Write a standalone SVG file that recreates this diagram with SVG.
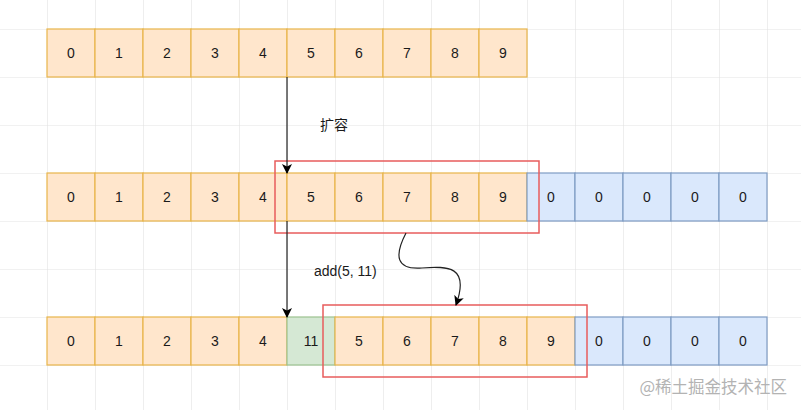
<svg xmlns="http://www.w3.org/2000/svg" width="801" height="410" viewBox="0 0 801 410">
<defs>
<pattern id="grid" x="-1" y="29" width="48" height="48" patternUnits="userSpaceOnUse">
<path d="M 0 0 L 48 0 M 0 0 L 0 48" fill="none" stroke="#e3e3e3" stroke-width="1.2"/>
</pattern>
<marker id="arr" viewBox="0 0 10 10" refX="9" refY="5" markerWidth="10" markerHeight="10" markerUnits="userSpaceOnUse" orient="auto">
<path d="M 0 0 L 10 5 L 0 10 L 2.5 5 Z" fill="#000"/>
</marker>
<style>
.o{fill:#ffe6cc;stroke:#e8b54a;stroke-width:1.2}
.b{fill:#dae8fc;stroke:#7f9cc4;stroke-width:1.2}
.g{fill:#d5e8d4;stroke:#9cc28f;stroke-width:1.2}
.t{font-family:"Liberation Sans",Arial,"Noto Sans CJK SC",sans-serif;font-size:14px;fill:#1a1a1a;text-anchor:middle;dominant-baseline:central}
.lbl{font-family:"Liberation Sans",Arial,"Noto Sans CJK SC",sans-serif;font-size:14px;fill:#1a1a1a}
.red{fill:none;stroke:#e85c5c;stroke-width:1.5}
.ln{fill:none;stroke:#222;stroke-width:1.2}
</style>
</defs>
<rect width="801" height="410" fill="#fff"/>
<rect width="801" height="410" fill="url(#grid)"/>

<g id="row1">
<g id="r1c0"><rect class="o" x="47" y="29" width="48" height="48"/><text class="t" x="71" y="53">0</text></g>
<g id="r1c1"><rect class="o" x="95" y="29" width="48" height="48"/><text class="t" x="119" y="53">1</text></g>
<g id="r1c2"><rect class="o" x="143" y="29" width="48" height="48"/><text class="t" x="167" y="53">2</text></g>
<g id="r1c3"><rect class="o" x="191" y="29" width="48" height="48"/><text class="t" x="215" y="53">3</text></g>
<g id="r1c4"><rect class="o" x="239" y="29" width="48" height="48"/><text class="t" x="263" y="53">4</text></g>
<g id="r1c5"><rect class="o" x="287" y="29" width="48" height="48"/><text class="t" x="311" y="53">5</text></g>
<g id="r1c6"><rect class="o" x="335" y="29" width="48" height="48"/><text class="t" x="359" y="53">6</text></g>
<g id="r1c7"><rect class="o" x="383" y="29" width="48" height="48"/><text class="t" x="407" y="53">7</text></g>
<g id="r1c8"><rect class="o" x="431" y="29" width="48" height="48"/><text class="t" x="455" y="53">8</text></g>
<g id="r1c9"><rect class="o" x="479" y="29" width="48" height="48"/><text class="t" x="503" y="53">9</text></g>
</g>

<g id="row2">
<g id="r2c0"><rect class="o" x="47" y="173" width="48" height="48"/><text class="t" x="71" y="197">0</text></g>
<g id="r2c1"><rect class="o" x="95" y="173" width="48" height="48"/><text class="t" x="119" y="197">1</text></g>
<g id="r2c2"><rect class="o" x="143" y="173" width="48" height="48"/><text class="t" x="167" y="197">2</text></g>
<g id="r2c3"><rect class="o" x="191" y="173" width="48" height="48"/><text class="t" x="215" y="197">3</text></g>
<g id="r2c4"><rect class="o" x="239" y="173" width="48" height="48"/><text class="t" x="263" y="197">4</text></g>
<g id="r2c5"><rect class="o" x="287" y="173" width="48" height="48"/><text class="t" x="311" y="197">5</text></g>
<g id="r2c6"><rect class="o" x="335" y="173" width="48" height="48"/><text class="t" x="359" y="197">6</text></g>
<g id="r2c7"><rect class="o" x="383" y="173" width="48" height="48"/><text class="t" x="407" y="197">7</text></g>
<g id="r2c8"><rect class="o" x="431" y="173" width="48" height="48"/><text class="t" x="455" y="197">8</text></g>
<g id="r2c9"><rect class="o" x="479" y="173" width="48" height="48"/><text class="t" x="503" y="197">9</text></g>
<g id="r2c10"><rect class="b" x="527" y="173" width="48" height="48"/><text class="t" x="551" y="197">0</text></g>
<g id="r2c11"><rect class="b" x="575" y="173" width="48" height="48"/><text class="t" x="599" y="197">0</text></g>
<g id="r2c12"><rect class="b" x="623" y="173" width="48" height="48"/><text class="t" x="647" y="197">0</text></g>
<g id="r2c13"><rect class="b" x="671" y="173" width="48" height="48"/><text class="t" x="695" y="197">0</text></g>
<g id="r2c14"><rect class="b" x="719" y="173" width="48" height="48"/><text class="t" x="743" y="197">0</text></g>
</g>

<g id="row3">
<g id="r3c0"><rect class="o" x="47" y="317" width="48" height="48"/><text class="t" x="71" y="341">0</text></g>
<g id="r3c1"><rect class="o" x="95" y="317" width="48" height="48"/><text class="t" x="119" y="341">1</text></g>
<g id="r3c2"><rect class="o" x="143" y="317" width="48" height="48"/><text class="t" x="167" y="341">2</text></g>
<g id="r3c3"><rect class="o" x="191" y="317" width="48" height="48"/><text class="t" x="215" y="341">3</text></g>
<g id="r3c4"><rect class="o" x="239" y="317" width="48" height="48"/><text class="t" x="263" y="341">4</text></g>
<g id="r3c5"><rect class="g" x="287" y="317" width="48" height="48"/><text class="t" x="311" y="341">11</text></g>
<g id="r3c6"><rect class="o" x="335" y="317" width="48" height="48"/><text class="t" x="359" y="341">5</text></g>
<g id="r3c7"><rect class="o" x="383" y="317" width="48" height="48"/><text class="t" x="407" y="341">6</text></g>
<g id="r3c8"><rect class="o" x="431" y="317" width="48" height="48"/><text class="t" x="455" y="341">7</text></g>
<g id="r3c9"><rect class="o" x="479" y="317" width="48" height="48"/><text class="t" x="503" y="341">8</text></g>
<g id="r3c10"><rect class="o" x="527" y="317" width="48" height="48"/><text class="t" x="551" y="341">9</text></g>
<g id="r3c11"><rect class="b" x="575" y="317" width="48" height="48"/><text class="t" x="599" y="341">0</text></g>
<g id="r3c12"><rect class="b" x="623" y="317" width="48" height="48"/><text class="t" x="647" y="341">0</text></g>
<g id="r3c13"><rect class="b" x="671" y="317" width="48" height="48"/><text class="t" x="695" y="341">0</text></g>
<g id="r3c14"><rect class="b" x="719" y="317" width="48" height="48"/><text class="t" x="743" y="341">0</text></g>
</g>

<g id="highlight1"><rect class="red" x="275" y="161" width="264" height="72"/></g>
<g id="highlight2"><rect class="red" x="323" y="305" width="264" height="72"/></g>

<g id="connectors">
<path class="ln" d="M 287 77 L 287 173" marker-end="url(#arr)"/>
<path class="ln" d="M 287 221 L 287 317" marker-end="url(#arr)"/>
<path class="ln" d="M 406 233 C 394 256, 396 270, 422 268 C 448 266, 470 266, 456 305" marker-end="url(#arr)"/>
</g>

<g id="labels">
<text class="lbl" x="320" y="130">扩容</text>
<text class="lbl" x="314" y="276">add(5, 11)</text>
</g>
<text x="787" y="393" text-anchor="end" font-family="'Noto Sans CJK SC',sans-serif" font-size="16.5" fill="#b3b3b3">@稀土掘金技术社区</text>
</svg>
